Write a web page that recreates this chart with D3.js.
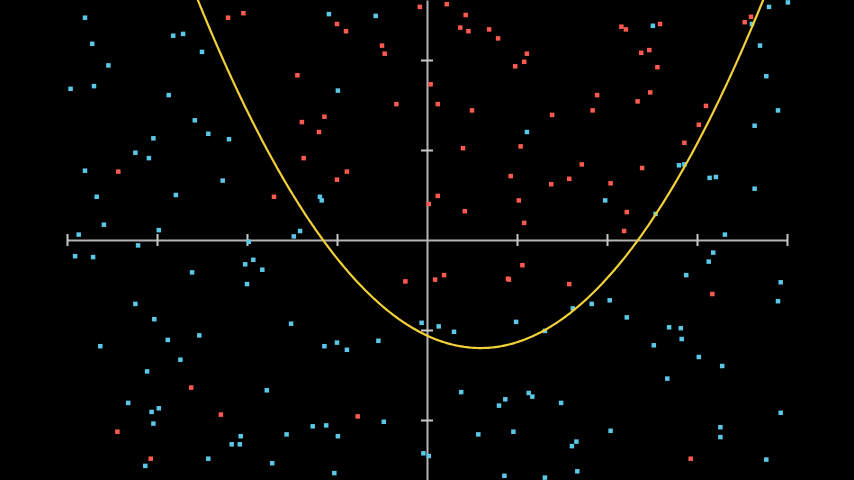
<!DOCTYPE html>
<html>
<head>
<meta charset="utf-8">
<script src="https://cdn.jsdelivr.net/npm/d3@7"></script>
<style>
html,body{margin:0;padding:0;background:#000;overflow:hidden;}
svg{display:block;}
</style>
</head>
<body>
<svg id="chart" width="854" height="480"></svg>
<script>
// Data
const redPoints = [
  [-2.21,2.47],[-2.04,2.52],[-3.43,0.76],[-1.70,0.48],
  [-0.08,2.59],[0.22,2.62],[-1.00,2.40],[-0.90,2.32],[0.43,2.50],[0.37,2.36],[0.46,2.32],
  [0.69,2.34],[0.79,2.24],[-0.50,2.16],[-0.47,2.07],[1.11,2.07],[1.08,1.98],[0.98,1.93],
  [-1.44,1.83],[0.04,1.73],[-0.34,1.51],[0.12,1.51],[0.50,1.44],[1.39,1.39],[-1.14,1.37],
  [-1.39,1.31],[-1.20,1.20],[1.04,1.04],[0.40,1.02],[-1.37,0.91],[0.93,0.71],[-0.89,0.76],
  [-1.00,0.67],[1.58,0.68],[1.38,0.62],[0.12,0.49],[0.02,0.40],[1.02,0.44],[0.42,0.32],[1.08,0.19],
  [2.16,2.37],[2.21,2.34],[2.59,2.40],[2.38,2.08],[2.47,2.11],[2.56,1.92],[3.53,2.42],[3.60,2.48],
  [1.89,1.61],[1.84,1.44],[2.48,1.64],[2.34,1.54],[3.10,1.49],[3.02,1.28],[2.86,1.08],
  [1.72,0.84],[2.39,0.80],[2.04,0.63],[2.22,0.31],[2.19,0.10],
  [-2.62,-1.64],[-2.29,-1.94],[-3.44,-2.13],[-3.07,-2.43],
  [-0.24,-0.46],[0.09,-0.44],[0.19,-0.39],[0.90,-0.43],[0.91,-0.44],[1.06,-0.28],[1.58,-0.49],[-0.77,-1.96],
  [3.17,-0.60],[2.93,-2.43]
];
const cyanPoints = [
  [-3.80,2.47],[-3.72,2.18],[-3.54,1.94],[-3.96,1.68],[-3.70,1.71],[-2.82,2.27],[-2.71,2.29],
  [-2.50,2.09],[-2.87,1.61],[-2.58,1.33],[-2.43,1.18],[-2.20,1.12],[-3.04,1.13],[-3.24,0.97],
  [-3.09,0.91],[-3.80,0.77],[-2.27,0.66],[-3.67,0.48],[-2.79,0.50],[-3.59,0.17],[-3.87,0.06],[-2.98,0.11],
  [-1.09,2.51],[-0.57,2.49],[-0.99,1.66],[1.11,1.20],[-1.19,0.48],[-1.17,0.44],[-1.41,0.10],[-1.48,0.04],
  [3.80,2.59],[4.01,2.64],[2.51,2.38],[3.61,2.40],[3.70,2.16],[3.77,1.82],[3.90,1.44],[3.64,1.27],
  [2.80,0.83],[2.86,0.84],[3.14,0.69],[3.21,0.70],[3.64,0.57],[1.98,0.44],[2.54,0.29],[3.31,0.06],
  [-3.21,-0.06],[-1.98,-0.02],[-3.91,-0.18],[-3.71,-0.19],[-2.02,-0.27],[-1.93,-0.22],[-1.83,-0.33],
  [-2.61,-0.36],[-2.00,-0.49],[-3.24,-0.71],[-3.03,-0.88],[-2.88,-1.11],[-2.53,-1.06],[-3.63,-1.18],
  [-2.74,-1.33],[-3.11,-1.46],[-1.78,-1.67],[-3.32,-1.81],[-3.06,-1.91],[-2.98,-1.87],[-3.04,-2.04],
  [-2.07,-2.18],[-2.17,-2.27],[-2.08,-2.27],[-2.43,-2.43],[-1.72,-2.48],[-3.13,-2.51],
  [-1.51,-0.93],[-1.14,-1.18],[-1.00,-1.14],[-0.89,-1.22],[-0.54,-1.12],[-0.06,-0.92],[0.13,-0.96],
  [0.30,-1.02],[0.99,-0.91],[1.31,-1.01],[0.38,-1.69],[0.87,-1.77],[0.80,-1.84],[1.13,-1.70],
  [1.17,-1.74],[1.49,-1.81],[-1.56,-2.16],[-1.27,-2.07],[-1.12,-2.06],[-0.99,-2.18],[-0.48,-2.02],
  [-0.04,-2.37],[0.02,-2.40],[-1.03,-2.59],[0.57,-2.16],[0.96,-2.13],[0.86,-2.62],[1.31,-2.64],
  [1.62,-0.76],[1.83,-0.71],[2.03,-0.67],[2.22,-0.86],[3.18,-0.14],[3.13,-0.24],[2.88,-0.39],
  [3.93,-0.47],[3.90,-0.68],[2.69,-0.97],[2.82,-0.98],[2.83,-1.10],[2.52,-1.17],[3.02,-1.30],
  [3.28,-1.40],[2.67,-1.54],[3.93,-1.92],[3.26,-2.08],[3.26,-2.19],[2.04,-2.12],[1.66,-2.24],
  [1.61,-2.29],[1.67,-2.57],[3.77,-2.44]
];
// Boundary curve y = c0 + c1*x + c2*x^2
const curveCoef = [-1.062, -0.466, 0.392];
const xTicks = [-4,-3,-2,-1,1,2,3,4];
const yTicks = [-2,-1,1,2];

const W = 854, H = 480;
const svg = d3.select("#chart");
svg.append("rect").attr("width",W).attr("height",H).attr("fill","#000");

const x = d3.scaleLinear().domain([-427/90, 427/90]).range([0, W]);
const y = d3.scaleLinear().domain([-240/90, 240/90]).range([H, 0]);

// Axes
const xAxisScale = x.copy().domain([-4,4]).range([x(-4), x(4)]);
const yAxisScale = y.copy().domain([-240/90, 240/90]).range([H, 0]);

const gx = svg.append("g").attr("transform",`translate(0,${y(0)})`)
  .call(d3.axisBottom(xAxisScale).tickValues(xTicks).tickSizeInner(6).tickSizeOuter(0).tickFormat(""));
gx.select(".domain").attr("stroke","#b4b4b4").attr("stroke-width",2);
gx.selectAll(".tick line").attr("y1",-6).attr("y2",6).attr("stroke","#c8c8c8").attr("stroke-width",2);

const gy = svg.append("g").attr("transform",`translate(${x(0)},0)`)
  .call(d3.axisLeft(yAxisScale).tickValues(yTicks).tickSizeInner(6).tickSizeOuter(0).tickFormat(""));
gy.select(".domain").attr("stroke","#b4b4b4").attr("stroke-width",2);
gy.selectAll(".tick line").attr("x1",-6).attr("x2",6).attr("stroke","#c8c8c8").attr("stroke-width",2);

// Points
const S = 4.5;
svg.append("g").selectAll("rect").data(cyanPoints).join("rect")
  .attr("x",d=>x(d[0])-S/2).attr("y",d=>y(d[1])-S/2)
  .attr("width",S).attr("height",S).attr("fill","#5ac8e6");
svg.append("g").selectAll("rect").data(redPoints).join("rect")
  .attr("x",d=>x(d[0])-S/2).attr("y",d=>y(d[1])-S/2)
  .attr("width",S).attr("height",S).attr("fill","#ff5a50");

// Curve
const xs = d3.range(-4.8, 4.8001, 0.02);
const f = v => curveCoef[0] + curveCoef[1]*v + curveCoef[2]*v*v;
svg.append("path")
  .datum(xs.map(v=>[v,f(v)]))
  .attr("fill","none").attr("stroke","#f2d038").attr("stroke-width",2.2)
  .attr("d", d3.line().x(d=>x(d[0])).y(d=>y(d[1])));
</script>
</body>
</html>
